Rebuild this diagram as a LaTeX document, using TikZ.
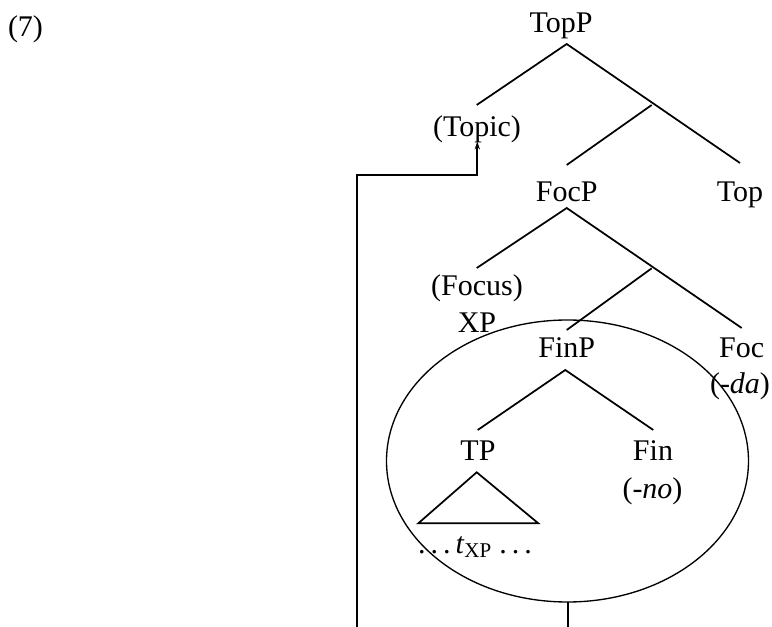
\documentclass[tikz,border=0pt]{standalone}
\usepackage{fontspec}
\setmainfont{Liberation Serif}
\usetikzlibrary{arrows.meta}
\begin{document}
\begin{tikzpicture}[x=0.75pt,y=-0.75pt,
  lbl/.style={anchor=base,inner sep=0pt,font=\fontsize{22.5}{26}\selectfont},
  br/.style={line width=1.3pt},
  ring/.style={line width=1pt},
  link/.style={line width=1.4pt}]
\useasboundingbox (0,0) rectangle (772,627);
\clip (0,0) rectangle (772,627);
% labels
\node[lbl] (ex) at (25.5,36.7) {(7)};
\node[lbl] (topp) at (561,33) {TopP};
\node[lbl] (topic) at (477,137) {(Topic)};
\node[lbl] (focp) at (566.7,201.7) {FocP};
\node[lbl] (top) at (740,201.7) {Top};
\node[lbl] (focus) at (477,296) {(Focus)};
\node[lbl] (xp) at (477,333) {XP};
\node[lbl] (finp) at (566.7,357.3) {FinP};
\node[lbl] (foc) at (741.7,357.3) {Foc};
\node[lbl] (da) at (740,393.3) {(-\textit{da})};
\node[lbl] (tp) at (478,460) {TP};
\node[lbl] (fin) at (653,460) {Fin};
\node[lbl] (no) at (652.5,498.3) {(-\textit{no})};
\node[lbl] (trace) at (475,553) {.\,.\,.\,\textit{t}\textsubscript{XP} .\,.\,.};
% branch points
\coordinate (a1) at (566.7,44);
\coordinate (a1l) at (476.7,105);
\coordinate (m1) at (651.7,105);
\coordinate (a1r) at (740,163);
\coordinate (m1d) at (566.7,165);
\coordinate (a2) at (566.7,208);
\coordinate (a2l) at (476.7,268);
\coordinate (m2) at (651.7,268.3);
\coordinate (a2r) at (741.7,328);
\coordinate (m2d) at (566.7,330);
\coordinate (a3) at (565.3,370);
\coordinate (a3l) at (477.7,430);
\coordinate (a3r) at (653.3,430);
\coordinate (t1) at (476.7,472.3);
\coordinate (t2) at (418.3,523.3);
\coordinate (t3) at (538.3,523.3);
% tree
\draw[br] (a1l) -- (a1) -- (a1r);
\draw[br] (m1) -- (m1d);
\draw[br] (a2l) -- (a2) -- (a2r);
\draw[br] (m2) -- (m2d);
\draw[br] (a3l) -- (a3) -- (a3r);
\draw[br] (t1) -- (t2) -- (t3) -- cycle;
% ellipse
\draw[ring] (567.5,461) ellipse [x radius=181, y radius=141];
\coordinate (ellb) at (568,602);
\coordinate (low) at (356.7,645);
\coordinate (turn) at (356.7,175);
\coordinate (tip) at (477.3,141.5);
\draw[link,-{Stealth[length=6pt,width=4pt]}] (ellb) |- (low) -- (turn) -| (tip);
\end{tikzpicture}
\end{document}
